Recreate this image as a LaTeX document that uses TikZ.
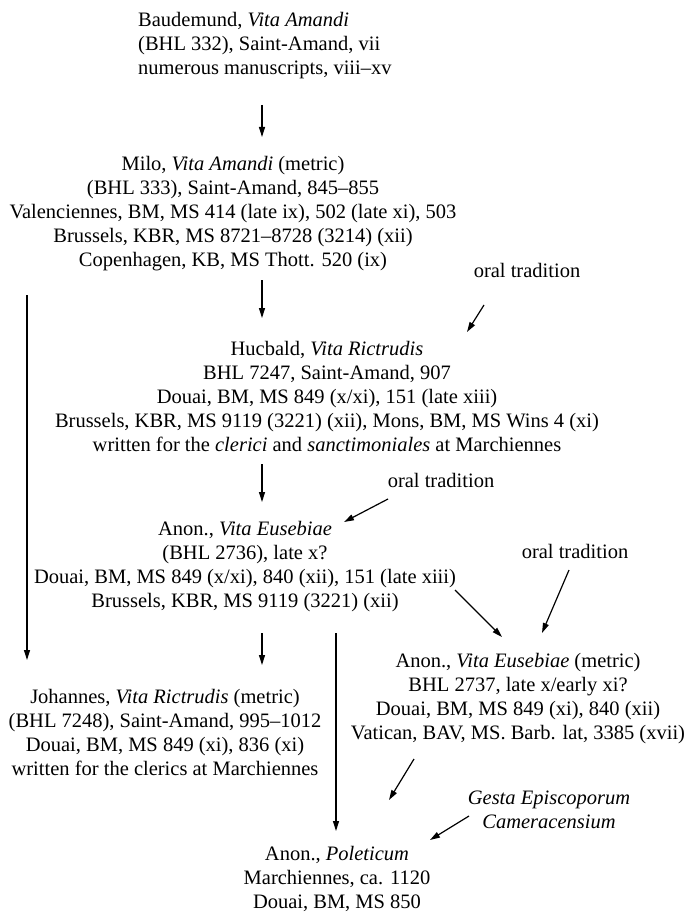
\documentclass[tikz,border=0pt]{standalone}
\usepackage{fontspec}
\setmainfont{Liberation Serif}
\usetikzlibrary{arrows.meta}
\begin{document}
\begin{tikzpicture}[x=1pt,y=-1pt,
  txt/.style={font=\fontsize{20.5}{24}\selectfont, align=center, inner sep=0pt, anchor=base},
  arr/.style={-{Triangle[length=10pt,width=6pt]}, line width=1.2pt}]
\useasboundingbox (0,0) rectangle (686,912);
% anchor=base is the baseline of the last line of each block
\node[txt, align=left, anchor=base west] (baud) at (138,75) {Baudemund, \textit{Vita Amandi}\\(BHL 332), Saint-Amand, vii\\numerous manuscripts, viii--xv};
\node[txt] (milo) at (233,266) {Milo, \textit{Vita Amandi} (metric)\\(BHL 333), Saint-Amand, 845--855\\Valenciennes, BM, MS 414 (late ix), 502 (late xi), 503\\Brussels, KBR, MS 8721--8728 (3214) (xii)\\Copenhagen, KB, MS Thott. 520 (ix)};
\node[txt] (oral1) at (527,277) {oral tradition};
\node[txt] (huc) at (327,451) {Hucbald, \textit{Vita Rictrudis}\\BHL 7247, Saint-Amand, 907\\Douai, BM, MS 849 (x/xi), 151 (late xiii)\\Brussels, KBR, MS 9119 (3221) (xii), Mons, BM, MS Wins 4 (xi)\\written for the \textit{clerici} and \textit{sanctimoniales} at Marchiennes};
\node[txt] (oral2) at (441,487) {oral tradition};
\node[txt] (eus) at (245,607) {Anon., \textit{Vita Eusebiae}\\(BHL 2736), late x?\\Douai, BM, MS 849 (x/xi), 840 (xii), 151 (late xiii)\\Brussels, KBR, MS 9119 (3221) (xii)};
\node[txt] (oral3) at (575,558) {oral tradition};
\node[txt] (eusm) at (518,739) {Anon., \textit{Vita Eusebiae} (metric)\\BHL 2737, late x/early xi?\\Douai, BM, MS 849 (xi), 840 (xii)\\Vatican, BAV, MS. Barb. lat, 3385 (xvii)};
\node[txt] (joh) at (165,775) {Johannes, \textit{Vita Rictrudis} (metric)\\(BHL 7248), Saint-Amand, 995--1012\\Douai, BM, MS 849 (xi), 836 (xi)\\written for the clerics at Marchiennes};
\node[txt] (gesta) at (549,828) {\textit{Gesta Episcoporum}\\\textit{Cameracensium}};
\node[txt] (pol) at (337,908) {Anon., \textit{Poleticum}\\Marchiennes, ca. 1120\\Douai, BM, MS 850};
% connector end points
\coordinate (a1s) at (262,105); \coordinate (a1e) at (262,137);
\coordinate (a2s) at (262,280); \coordinate (a2e) at (262,318);
\coordinate (o1s) at (484,305); \coordinate (o1e) at (467,332);
\coordinate (ls) at (27,295); \coordinate (le) at (27,660);
\coordinate (a3s) at (262,464); \coordinate (a3e) at (262,502);
\coordinate (o2s) at (388,499); \coordinate (o2e) at (344,522);
\coordinate (o3s) at (569,570); \coordinate (o3e) at (542,633);
\coordinate (ds) at (455,590); \coordinate (de) at (502,637);
\coordinate (a4s) at (262,633); \coordinate (a4e) at (262,665);
\coordinate (l2s) at (336,633); \coordinate (l2e) at (336,831);
\coordinate (ms) at (414,759); \coordinate (me) at (389,800);
\coordinate (gs) at (469,816); \coordinate (ge) at (430,840);
\draw[arr] (a1s) -- (a1e);
\draw[arr] (a2s) -- (a2e);
\draw[arr] (o1s) -- (o1e);
\draw[arr] (ls) -- (le);
\draw[arr] (a3s) -- (a3e);
\draw[arr] (o2s) -- (o2e);
\draw[arr] (o3s) -- (o3e);
\draw[arr] (ds) -- (de);
\draw[arr] (a4s) -- (a4e);
\draw[arr] (l2s) -- (l2e);
\draw[arr] (ms) -- (me);
\draw[arr] (gs) -- (ge);
\end{tikzpicture}
\end{document}
